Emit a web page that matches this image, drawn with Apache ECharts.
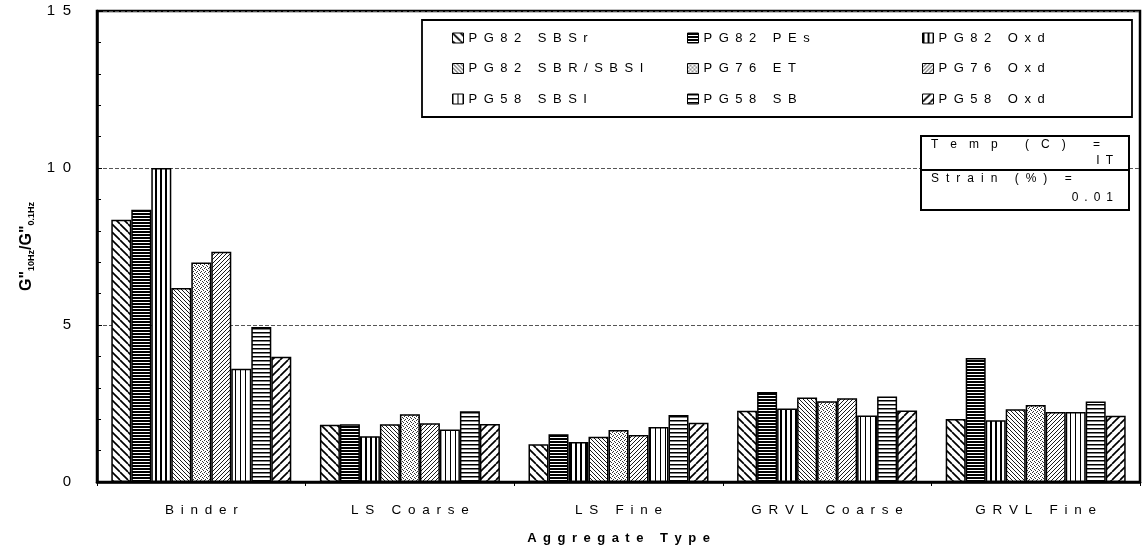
<!DOCTYPE html>
<html><head><meta charset="utf-8">
<script src="https://cdn.jsdelivr.net/npm/echarts@6/dist/echarts.min.js"></script>
<style>html,body{margin:0;padding:0;background:#fff}#c{width:1143px;height:560px}</style>
</head><body><div id="c"></div>
<script>
const categories = ['Binder', 'LS Coarse', 'LS Fine', 'GRVL Coarse', 'GRVL Fine'];
const seriesNames = ['PG82 SBSr', 'PG82 PEs', 'PG82 Oxd', 'PG82 SBR/SBSI', 'PG76 ET', 'PG76 Oxd', 'PG58 SBSI', 'PG58 SB', 'PG58 Oxd'];
const pg82SBSr    = [8.35, 1.82, 1.20, 2.27, 2.01];
const pg82PEs     = [8.67, 1.84, 1.52, 2.87, 3.95];
const pg82Oxd     = [10.0, 1.46, 1.27, 2.34, 1.97];
const pg82SBRSBSI = [6.18, 1.84, 1.44, 2.69, 2.32];
const pg76ET      = [6.99, 2.16, 1.66, 2.57, 2.45];
const pg76Oxd     = [7.33, 1.87, 1.50, 2.67, 2.23];
const pg58SBSI    = [3.61, 1.67, 1.75, 2.12, 2.23];
const pg58SB      = [4.94, 2.25, 2.13, 2.72, 2.56];
const pg58Oxd     = [3.99, 1.85, 1.89, 2.28, 2.11];
const seriesValues = [pg82SBSr, pg82PEs, pg82Oxd, pg82SBRSBSI, pg76ET, pg76Oxd, pg58SBSI, pg58SB, pg58Oxd];
const yMin = 0, yMax = 15, yStep = 5;
const infoRows = ['Temp (C) =', 'IT', 'Strain (%) =', '0.01'];

const sp = (s, g) => Array.from(s).join(g || '\u2002');

function pattern(kind) {
  let w = 8, h = 8;
  if (kind === 'bk' || kind === 'fw') { w = h = 8; }
  if (kind === 'bkFine' || kind === 'fwFine') { w = h = 4; }
  if (kind === 'hDense') { w = 4; h = 3; }
  if (kind === 'hMed') { w = 4; h = 4; }
  if (kind === 'vDense') { w = 5; h = 4; }
  if (kind === 'vSparse') { w = 5; h = 4; }
  if (kind === 'dots') { w = 4; h = 4; }
  const c = document.createElement('canvas');
  c.width = w; c.height = h;
  const x = c.getContext('2d');
  x.fillStyle = '#fff'; x.fillRect(0, 0, w, h);
  x.strokeStyle = '#000'; x.fillStyle = '#000';
  if (kind === 'bk' || kind === 'bkFine') {
    x.lineWidth = kind === 'bk' ? 1.7 : 0.9;
    for (let i = -1; i <= 1; i++) { x.beginPath(); x.moveTo(i * w, 0); x.lineTo(i * w + w, h); x.stroke(); }
  } else if (kind === 'fw' || kind === 'fwFine') {
    x.lineWidth = kind === 'fw' ? 1.7 : 0.9;
    for (let i = -1; i <= 1; i++) { x.beginPath(); x.moveTo(i * w, h); x.lineTo(i * w + w, 0); x.stroke(); }
  } else if (kind === 'hDense') {
    x.fillRect(0, 0, w, 2);
  } else if (kind === 'hMed') {
    x.fillRect(0, 0, w, 1.5);
  } else if (kind === 'vDense') {
    x.fillRect(0, 0, 2, h);
  } else if (kind === 'vSparse') {
    x.fillRect(0, 0, 1, h);
  } else if (kind === 'dots') {
    x.fillStyle = '#333';
    [[0, 0], [2, 1], [1, 3], [3, 2]].forEach(p => x.fillRect(p[0], p[1], 1, 1));
  }
  return { image: c, repeat: 'repeat' };
}
const kinds = ['bk', 'hDense', 'vDense', 'bkFine', 'dots', 'fwFine', 'vSparse', 'hMed', 'fw'];

const chart = echarts.init(document.getElementById('c'), null, { renderer: 'canvas' });
const font = '"Liberation Sans", Arial, sans-serif';

const series = seriesNames.map((n, i) => ({
  name: n,
  type: 'bar',
  data: seriesValues[i],
  barWidth: 20,
  barGap: '0%',
  itemStyle: { color: pattern(kinds[i]), borderColor: '#000', borderWidth: 1.5 },
  emphasis: { disabled: true }
}));

function legendCol(names, left) {
  return {
    data: names, orient: 'vertical', left: left, top: 31, padding: 0,
    itemWidth: 11, itemHeight: 10, itemGap: 16.5, icon: 'rect',
    itemStyle: { borderColor: '#000', borderWidth: 1 },
    textStyle: { fontSize: 13, color: '#000', fontFamily: font, lineHeight: 14 },
    formatter: n => sp(n),
    selectedMode: false
  };
}

const bx = 921, bw = 208, by = 136, bmid = 170, bb = 210;

chart.setOption({
  animation: false,
  backgroundColor: '#fff',
  grid: { left: 97, right: 3, top: 11, bottom: 78, show: true, borderColor: '#000', borderWidth: 2.5, containLabel: false, outerBoundsMode: 'none' },
  legend: [
    legendCol([seriesNames[0], seriesNames[3], seriesNames[6]], 452),
    legendCol([seriesNames[1], seriesNames[4], seriesNames[7]], 687),
    legendCol([seriesNames[2], seriesNames[5], seriesNames[8]], 922)
  ],
  xAxis: {
    type: 'category', data: categories,
    axisLine: { lineStyle: { color: '#000', width: 2.5 } },
    axisTick: { show: true, length: 4, lineStyle: { color: '#000' } },
    axisLabel: { color: '#000', fontSize: 13.5, fontFamily: font, margin: 21, formatter: v => sp(v) },
    name: sp('Aggregate Type'), nameLocation: 'middle', nameGap: 50,
    nameTextStyle: { color: '#000', fontSize: 13, fontWeight: 'bold', fontFamily: font }
  },
  yAxis: {
    type: 'value', min: yMin, max: yMax, interval: yStep,
    axisLine: { show: true, lineStyle: { color: '#000', width: 2.5 } },
    axisTick: { show: true, inside: true, length: 5, lineStyle: { color: '#000' } },
    minorTick: { show: true, splitNumber: 5, length: 4, lineStyle: { color: '#000' } },
    axisLabel: { color: '#000', fontSize: 15, fontFamily: font, margin: 26, formatter: v => sp(String(v)) },
    splitLine: { show: true, lineStyle: { color: '#555', width: 1, type: [4, 2] } },
    name: '{g|G"}{s|10Hz}{g|/G"}{s|0.1Hz}', nameLocation: 'middle', nameGap: 47, nameRotate: 90,
    nameTextStyle: {
      fontFamily: font, color: '#000',
      rich: {
        g: { fontSize: 16, fontWeight: 'bold', fontFamily: font, color: '#000', lineHeight: 17, verticalAlign: 'top' },
        s: { fontSize: 9, fontWeight: 'bold', fontFamily: font, color: '#000', lineHeight: 9, verticalAlign: 'bottom', padding: [10, 0, 0, 0] }
      }
    }
  },
  series: series,
  graphic: [
    { type: 'rect', z: 1, silent: true, shape: { x: 422, y: 20, width: 710, height: 97 }, style: { fill: 'none', stroke: '#000', lineWidth: 1.8 } },
    { type: 'rect', z: 50, silent: true, shape: { x: bx, y: by, width: bw, height: bb - by }, style: { fill: '#fff', stroke: '#000', lineWidth: 2 } },
    { type: 'line', z: 51, silent: true, shape: { x1: bx, y1: bmid, x2: bx + bw, y2: bmid }, style: { stroke: '#000', lineWidth: 2 } },
    { type: 'text', z: 52, silent: true, x: 931, y: 145, style: { text: sp(infoRows[0], '\u2003'), font: '12px ' + font, fill: '#000', verticalAlign: 'middle' } },
    { type: 'text', z: 52, silent: true, x: 1113, y: 161, style: { text: sp(infoRows[1], '\u2002'), font: '12px ' + font, fill: '#000', align: 'right', verticalAlign: 'middle' } },
    { type: 'text', z: 52, silent: true, x: 931, y: 179, style: { text: sp(infoRows[2], '\u2002\u200a'), font: '12px ' + font, fill: '#000', verticalAlign: 'middle' } },
    { type: 'text', z: 52, silent: true, x: 1113, y: 198, style: { text: sp(infoRows[3], '\u2002'), font: '12px ' + font, fill: '#000', align: 'right', verticalAlign: 'middle' } }
  ]
});
</script></body></html>
